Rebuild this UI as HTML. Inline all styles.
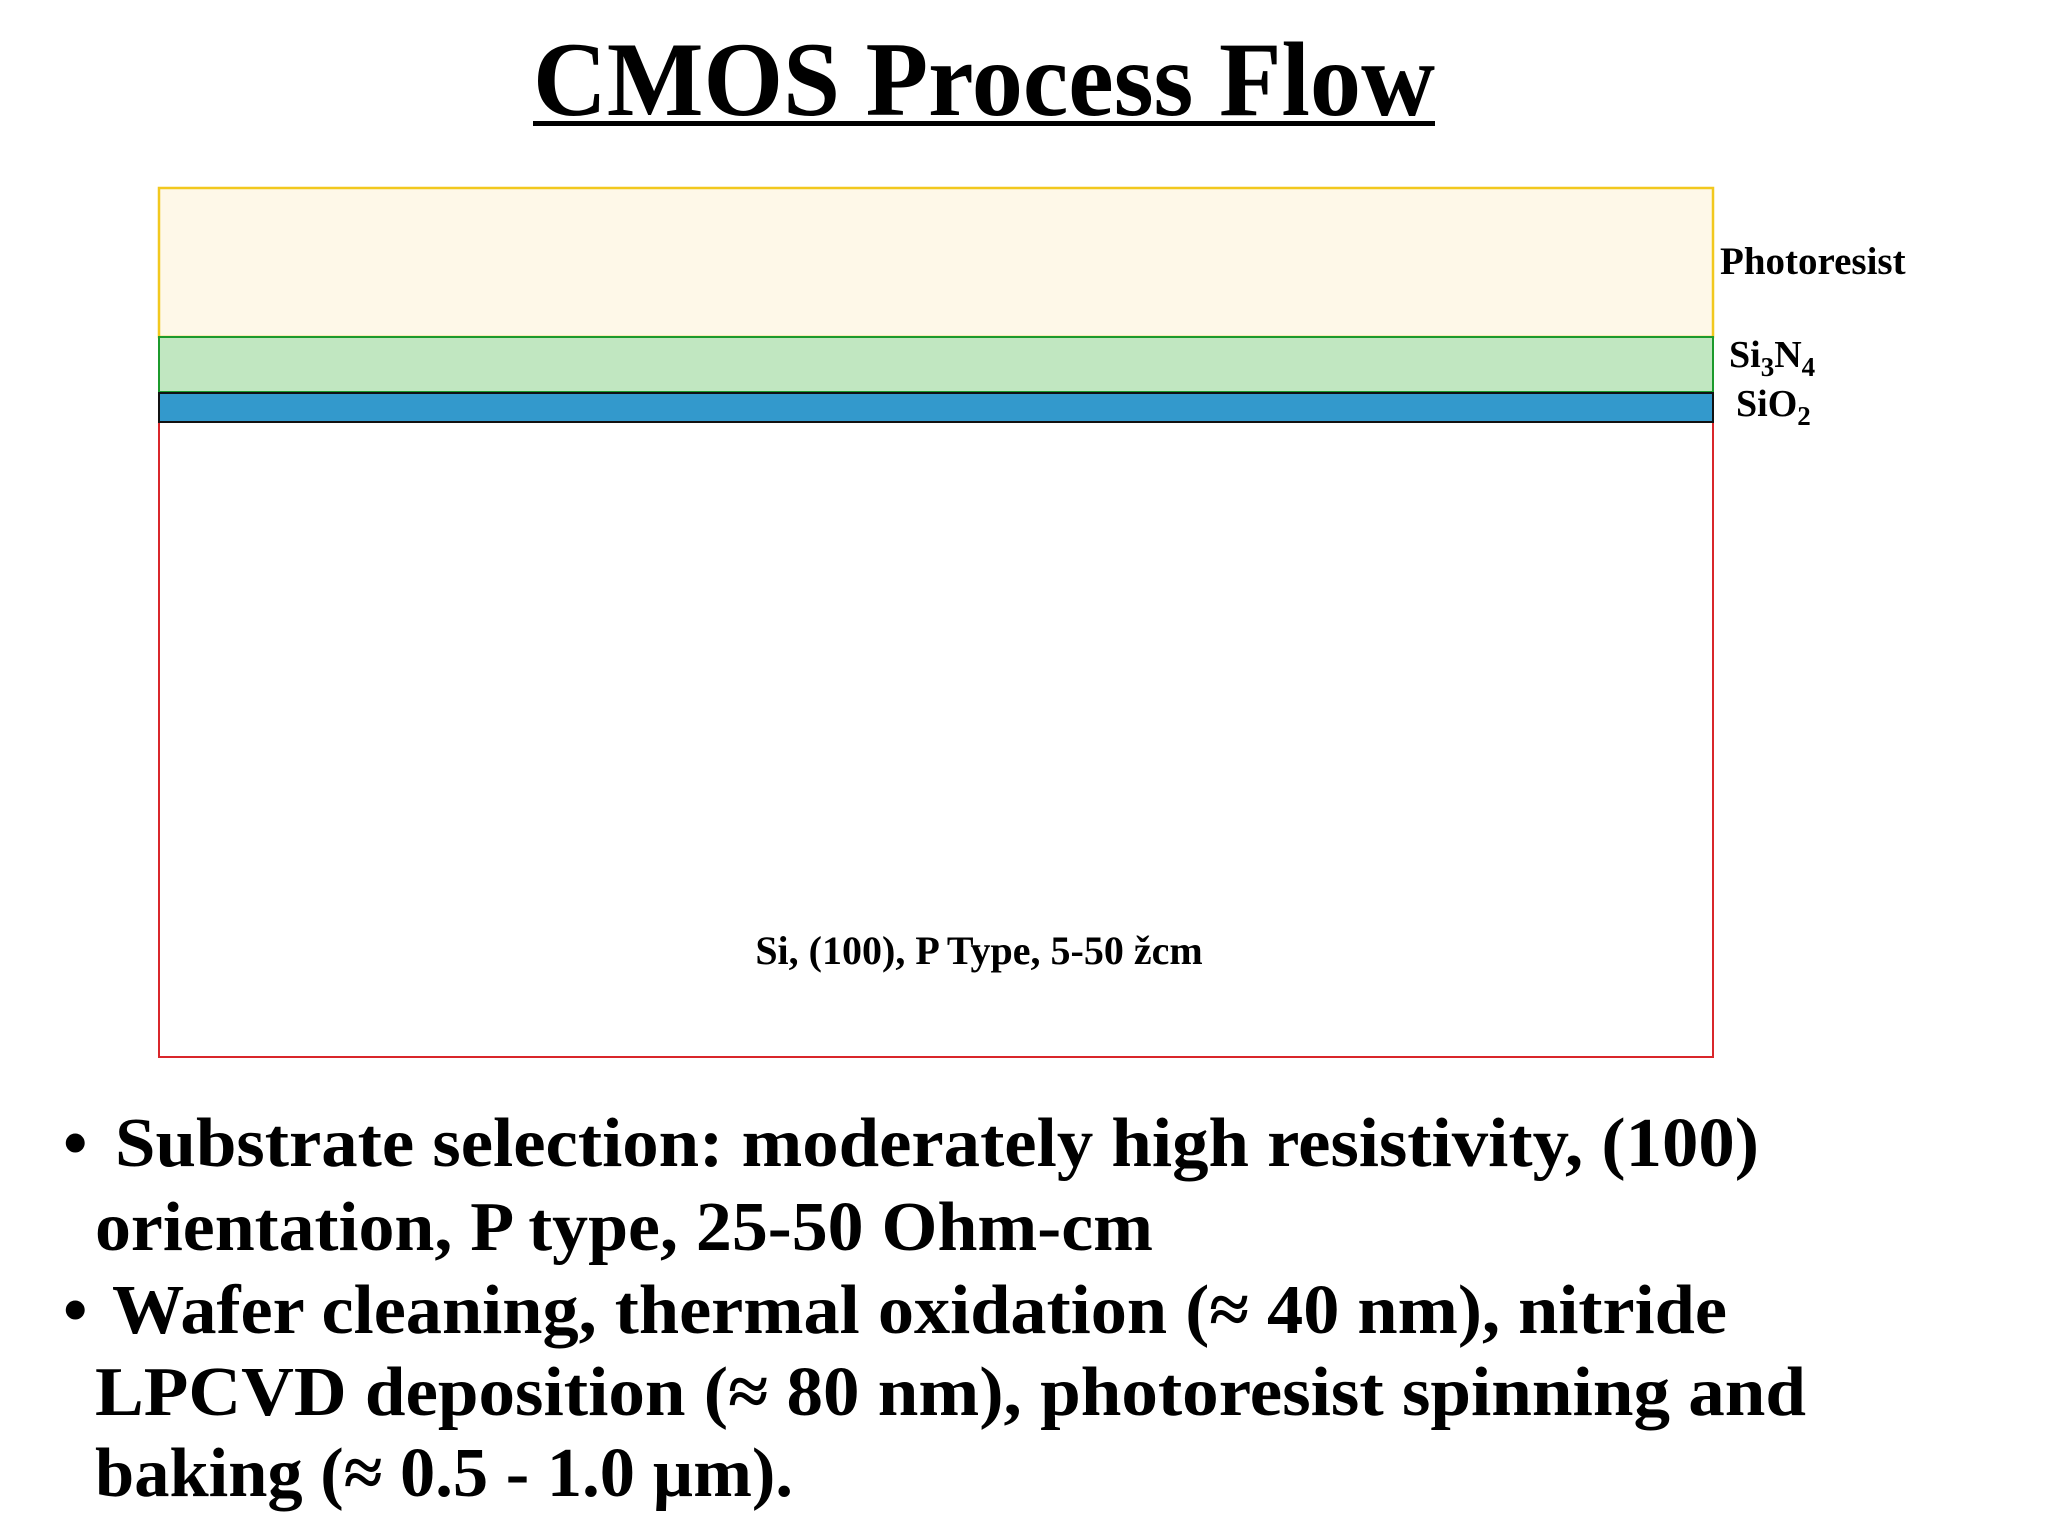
<!DOCTYPE html>
<html><head><meta charset="utf-8"><style>
html,body{margin:0;padding:0;background:#fff;}
svg{display:block;font-family:"Liberation Serif",serif;font-weight:bold;}
</style></head><body>
<svg width="2048" height="1536" viewBox="0 0 2048 1536">
<text x="533" y="115" font-size="106" textLength="902" lengthAdjust="spacingAndGlyphs">CMOS Process Flow</text>
<rect x="533" y="121" width="902" height="5" fill="#000"/>
<rect x="159" y="422" width="1554" height="635" fill="#fff" stroke="#d9262b" stroke-width="2"/>
<rect x="159" y="188" width="1554" height="149" fill="#fef8e8" stroke="#f2c81e" stroke-width="2.5"/>
<rect x="159" y="337" width="1554" height="55" fill="#c1e7c1" stroke="#1c9a2c" stroke-width="2"/>
<rect x="159" y="393" width="1554" height="29" fill="#3399cc" stroke="#111" stroke-width="2"/>
<text x="1720" y="274" font-size="39">Photoresist</text>
<text x="1729" y="367" font-size="38">Si<tspan font-size="27" dy="9">3</tspan><tspan dy="-9">N</tspan><tspan font-size="27" dy="9">4</tspan></text>
<text x="1736" y="416" font-size="38">SiO<tspan font-size="27" dy="9">2</tspan></text>
<text x="979" y="964" font-size="40" text-anchor="middle">Si, (100), P Type, 5-50 žcm</text>
<g font-size="70">
<text x="63" y="1166">•</text>
<text x="115" y="1166" textLength="1644" lengthAdjust="spacingAndGlyphs">Substrate selection: moderately high resistivity, (100)</text>
<text x="95" y="1250" textLength="1058" lengthAdjust="spacingAndGlyphs">orientation, P type, 25-50 Ohm-cm</text>
<text x="63" y="1333">•</text>
<text x="112" y="1333" textLength="1615" lengthAdjust="spacingAndGlyphs">Wafer cleaning, thermal oxidation (≈ 40 nm), nitride</text>
<text x="95" y="1415" textLength="1711" lengthAdjust="spacingAndGlyphs">LPCVD deposition (≈ 80 nm), photoresist spinning and</text>
<text x="95" y="1496" textLength="698" lengthAdjust="spacingAndGlyphs">baking (≈ 0.5 - 1.0 µm).</text>
</g>
</svg>
</body></html>
